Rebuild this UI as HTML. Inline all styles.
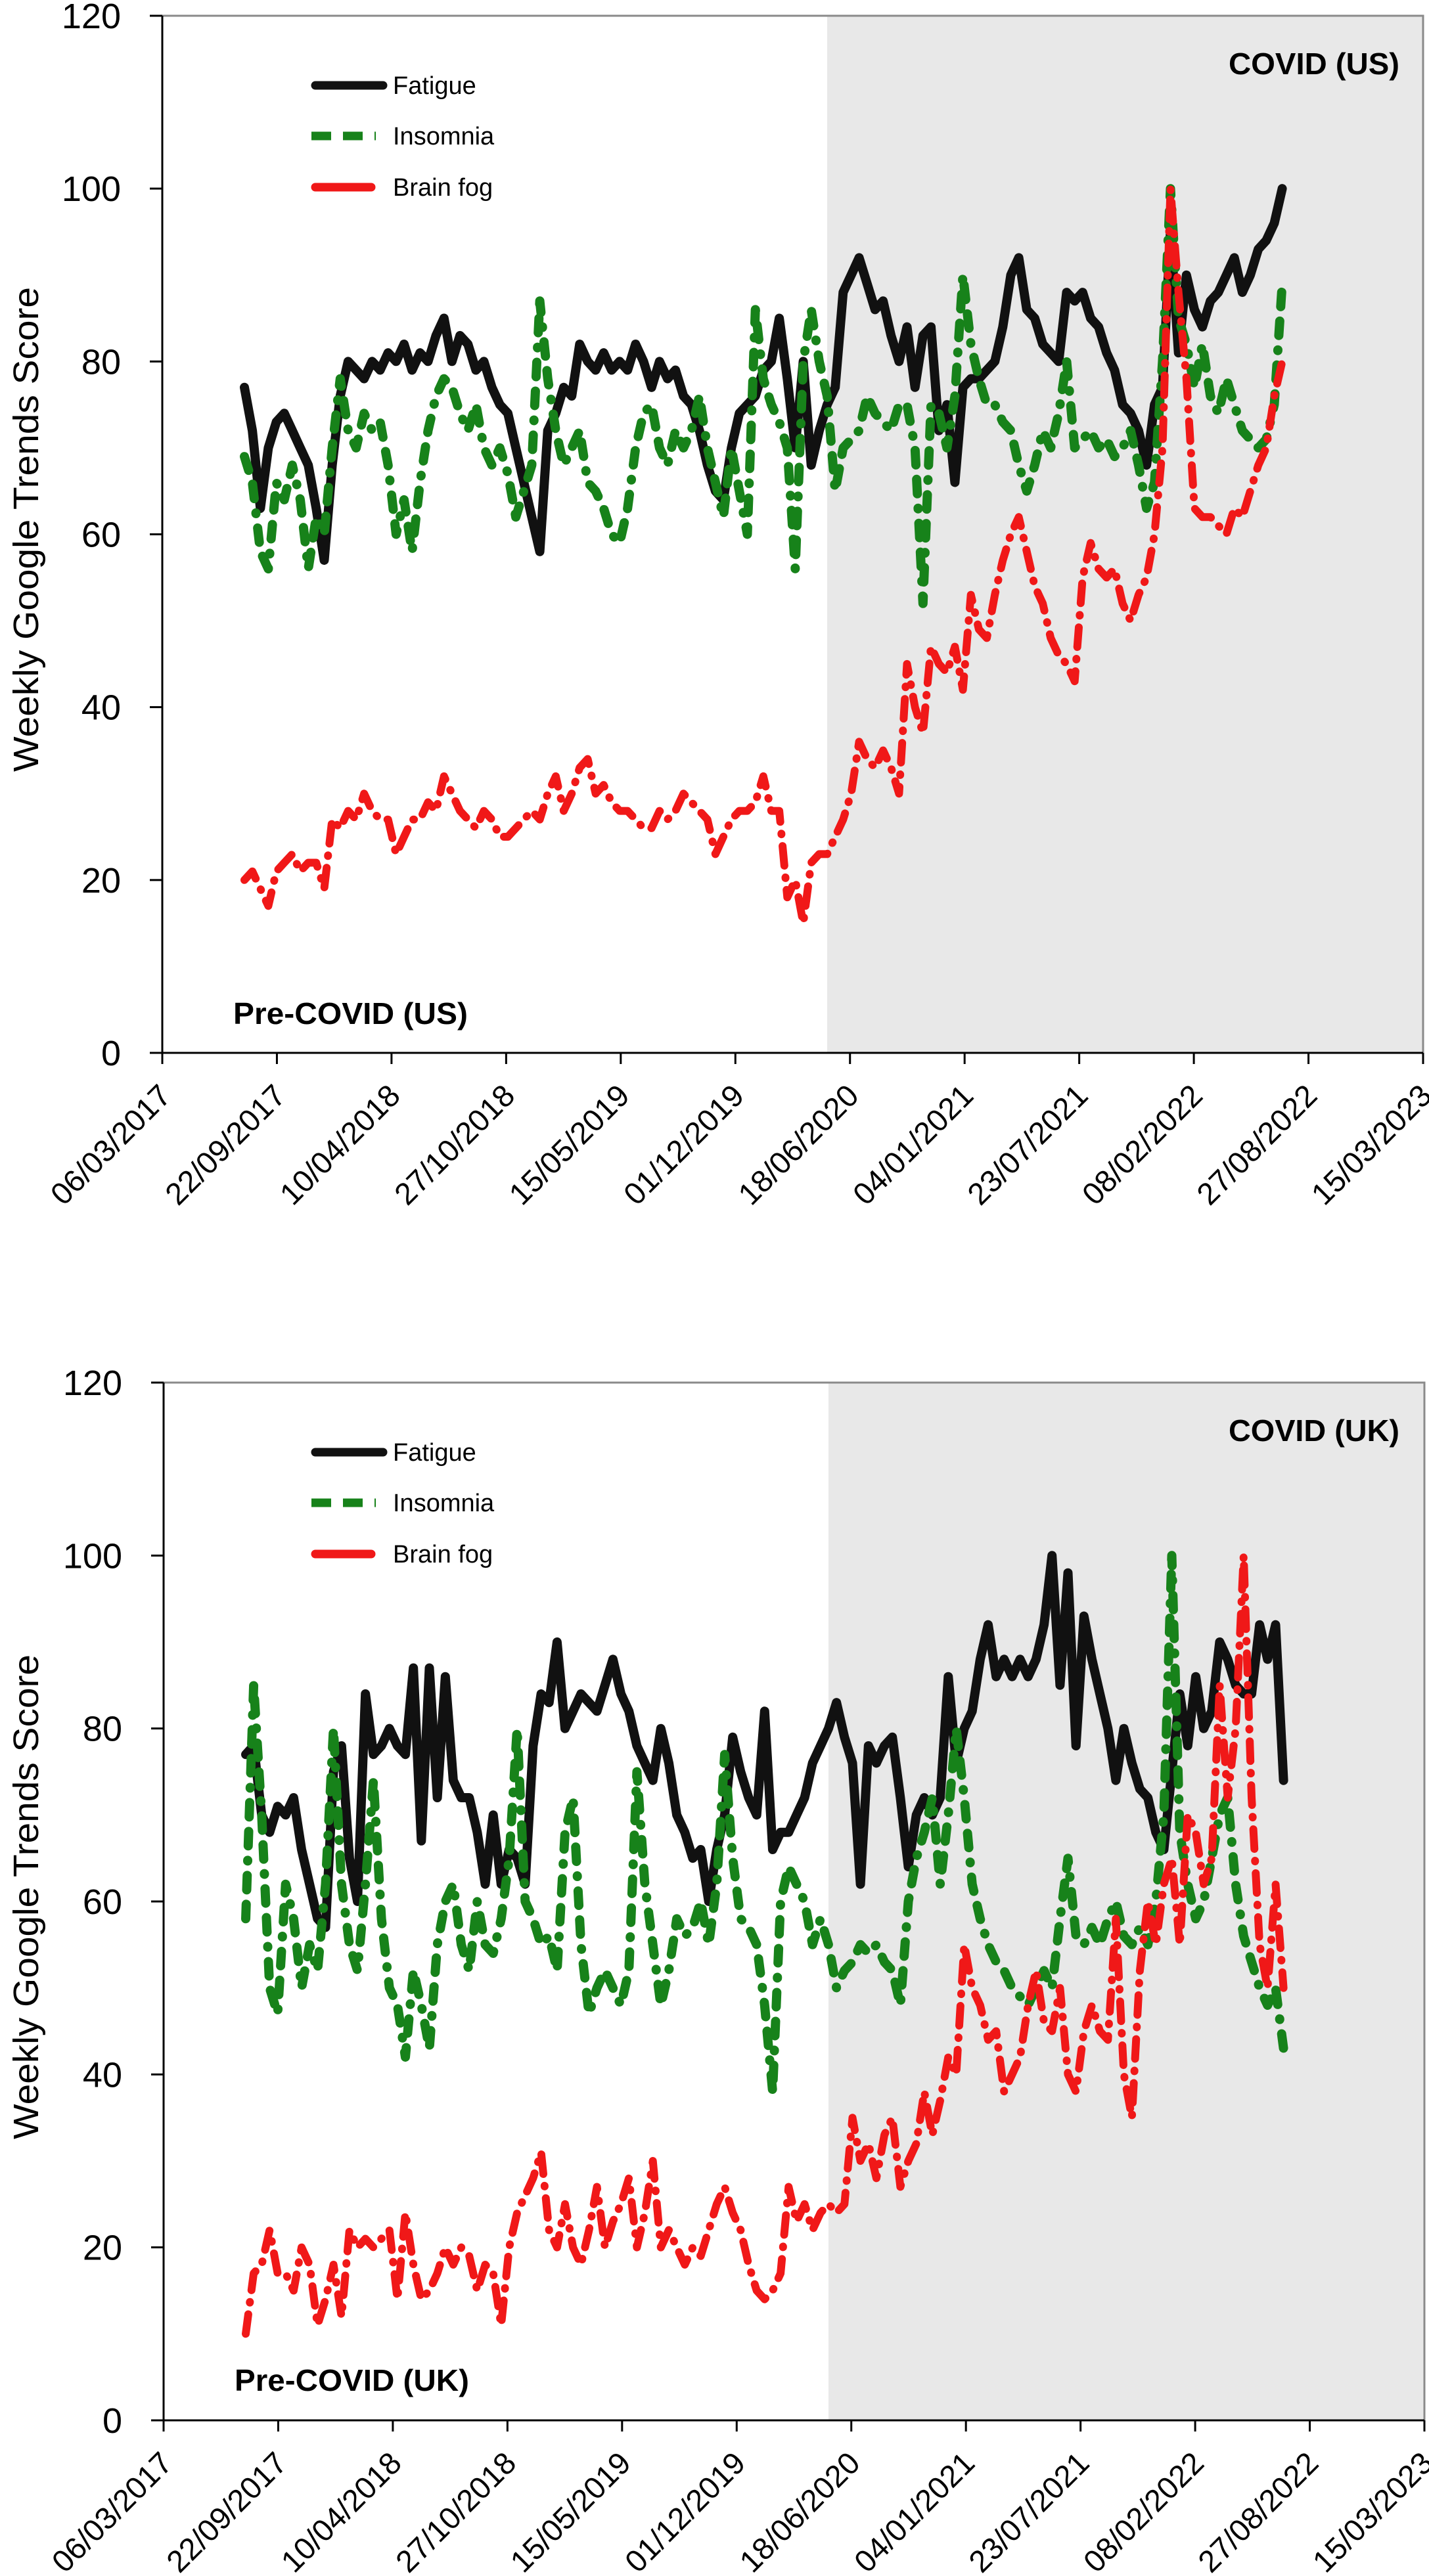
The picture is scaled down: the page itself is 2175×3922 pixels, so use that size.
<!DOCTYPE html>
<html><head><meta charset="utf-8"><style>
html,body{margin:0;padding:0;background:#fff;}
svg{display:block;}
text{font-family:"Liberation Sans",sans-serif;fill:#000;}
</style></head>
<body>
<svg id="chart" width="2175" height="3922" viewBox="0 0 2175 3922" xmlns="http://www.w3.org/2000/svg"></svg>
<script>
// ---- data (biweekly samples starting ~late July 2017) ----
const startDay = 144; // days after 06/03/2017
const stepDays = 14;
const covidStartDay = 1166;
const xTickLabels = ["06/03/2017","22/09/2017","10/04/2018","27/10/2018","15/05/2019","01/12/2019","18/06/2020","04/01/2021","23/07/2021","08/02/2022","27/08/2022","15/03/2023"];
const yTickLabels = [0,20,40,60,80,100,120];

const usFatigue = [77,72,63,70,73,74,72,70,68,63,57,68,76,80,79,78,80,79,81,80,82,79,81,80,83,85,80,83,82,79,80,77,75,74,70,66,62,58,72,74,77,76,82,80,79,81,79,80,79,82,80,77,80,78,79,76,75,72,68,65,64,70,74,75,76,79,80,85,78,70,80,68,72,75,77,88,90,92,89,86,87,83,80,84,77,83,84,72,75,66,77,78,78,79,80,84,90,92,86,85,82,81,80,88,87,88,85,84,81,79,75,74,72,68,75,77,95,81,90,86,84,87,88,90,92,88,90,93,94,96,100];
const usInsomnia = [69,66,58,56,66,64,68,64,56,62,60,70,78,72,70,74,72,73,68,60,64,58,66,72,76,78,77,74,72,75,70,68,70,67,62,65,68,87,78,72,68,70,72,66,65,63,60,59,63,70,74,75,70,68,72,70,72,76,70,66,62,70,65,60,86,78,75,73,70,56,80,86,80,76,65,70,71,72,76,74,73,72,75,75,70,52,75,74,70,76,90,82,78,75,75,73,72,68,65,68,72,70,74,80,70,71,72,70,71,69,70,72,68,63,66,80,100,85,82,77,82,76,74,78,75,72,71,70,71,75,89];
const usBrainFog = [20,21,19,17,21,22,23,21,22,22,19,27,26,28,27,30,28,27,27,23,25,27,27,29,28,32,30,28,27,26,28,27,25,25,26,27,28,27,30,32,28,30,33,34,30,31,29,28,28,27,26,26,28,27,28,30,29,28,27,23,25,27,28,28,29,32,28,28,18,20,15,22,23,23,25,27,30,36,34,33,35,33,30,45,40,37,47,45,44,47,42,53,49,48,53,57,60,62,58,54,52,48,46,45,43,55,59,56,55,56,52,50,53,55,60,70,100,88,78,63,62,62,61,60,63,62,65,68,70,76,80];

const ukFatigue = [77,78,70,68,71,70,72,66,62,58,57,75,78,65,60,84,77,78,80,78,77,87,67,87,72,86,74,72,72,68,62,70,62,66,65,62,78,84,83,90,80,82,84,83,82,85,88,84,82,78,76,74,80,76,70,68,65,66,60,66,70,79,75,72,70,82,66,68,68,70,72,76,78,80,83,79,76,62,78,76,78,79,72,64,70,72,70,72,86,76,80,82,88,92,86,88,86,88,86,88,92,100,85,98,78,93,88,84,80,74,80,76,73,72,68,66,75,84,78,86,80,82,90,88,85,84,84,92,88,92,74];
const ukInsomnia = [58,85,70,50,47,62,58,50,55,52,62,80,62,55,52,62,74,58,50,48,42,52,48,43,55,60,62,55,52,60,55,54,58,65,80,60,58,55,56,52,68,72,55,47,50,52,50,48,52,75,62,55,48,52,58,56,57,60,55,62,77,65,58,57,55,48,38,60,64,62,60,55,58,55,50,52,53,55,54,55,53,52,48,60,65,68,72,62,70,80,72,62,58,55,53,52,50,49,48,50,52,50,58,65,56,55,57,55,58,60,56,55,57,55,60,70,100,68,62,58,60,65,70,72,62,56,53,50,48,50,43];
const ukBrainFog = [10,17,18,22,17,17,15,20,18,11,14,18,12,22,20,21,20,21,22,14,24,18,14,15,17,20,18,20,19,15,18,17,11,20,24,26,28,31,22,20,25,20,18,22,27,20,23,25,28,20,24,30,20,22,20,18,20,19,22,25,27,24,22,18,15,14,15,17,27,23,25,22,24,25,24,25,35,30,32,28,33,35,27,30,32,38,33,37,42,40,55,50,48,44,45,38,40,42,48,52,46,45,50,40,38,45,48,45,44,58,40,35,52,60,55,62,65,55,70,68,62,65,85,72,80,100,72,55,50,62,50];

const NS = "http://www.w3.org/2000/svg";
const svg = document.getElementById('chart');
function mk(tag, attrs, parent){
  const e = document.createElementNS(NS, tag);
  for (const k in attrs) e.setAttribute(k, attrs[k]);
  (parent||svg).appendChild(e);
  return e;
}

function drawPanel(cfg){
  const g = mk('g', {});
  
  
  const L=cfg.left, R=cfg.right, T=cfg.top, B=cfg.bottom;
  const tickStep = 201, nTicks = xTickLabels.length-1;
  const xScale = d => L + d/(tickStep*nTicks)*(R-L);
  const yScale = v => B - v/120*(B-T);

  const shade = mk('rect', {x:xScale(covidStartDay), y:T, width:R-xScale(covidStartDay), height:B-T, fill:'#e8e8e8'}, g);
  
  

  const fr = mk('path', {d:`M${L} ${T}H${R}V${B}`, fill:'none', stroke:'#8a8a8a', 'stroke-width':3}, g);
  
  

  const series = [
    {vals:cfg.fatigue, color:'#111', w:14, dash:null, name:'fatigue-line'},
    {vals:cfg.insomnia, color:'#17821a', w:14, dash:'22 22 22 22 1 22', name:'insomnia-line'},
    {vals:cfg.brainfog, color:'#f01818', w:12, dash:'30 18 1 18', name:'brain-fog-line'}
  ];
  series.forEach(s=>{
    let d='';
    s.vals.forEach((v,i)=>{
      const x = xScale(startDay + i*stepDays), y = yScale(v);
      d += (i? 'L':'M') + x.toFixed(1) + ' ' + y.toFixed(1);
    });
    const attrs = {d:d, fill:'none', stroke:s.color, 'stroke-width':s.w, 'stroke-linejoin':'round', 'stroke-linecap':'round'};
    if (s.dash) attrs['stroke-dasharray'] = s.dash;
    const p = mk('path', attrs, g);
    
    
  });

  const ax = mk('path', {d:`M${L} ${T}V${B}H${R}`, fill:'none', stroke:'#000', 'stroke-width':3}, g);
  
  

  yTickLabels.forEach(v=>{
    const y = yScale(v);
    const t = mk('line', {x1:L-19, x2:L, y1:y, y2:y, stroke:'#000', 'stroke-width':3}, g);
    
    
    const tx = mk('text', {x:L-63, y:y+19, 'text-anchor':'end', 'font-size':54}, g);
    tx.textContent = v;
    
    
  });
  xTickLabels.forEach((lab,k)=>{
    const x = xScale(k*tickStep);
    const t = mk('line', {x1:x, x2:x, y1:B, y2:B+17, stroke:'#000', 'stroke-width':3}, g);
    
    
    const tx = mk('text', {x:0, y:0, 'text-anchor':'end', 'font-size':47, transform:`translate(${x+16},${B+68}) rotate(-45)`}, g);
    tx.textContent = lab;
    
    
  });

  const yt = mk('text', {x:0, y:0, 'text-anchor':'middle', 'font-size':54, textLength:738, lengthAdjust:'spacingAndGlyphs', transform:`translate(58,${cfg.titleY}) rotate(-90)`}, g);
  yt.textContent = 'Weekly Google Trends Score';
  
  

  const pc = mk('text', {x:L+108, y:T+1535, 'font-size':46, 'font-weight':'bold', textLength:357, lengthAdjust:'spacingAndGlyphs'}, g);
  pc.textContent = cfg.preLabel;
  
  
  const cv = mk('text', {x:1870, y:T+89, 'font-size':46, 'font-weight':'bold', textLength:260, lengthAdjust:'spacingAndGlyphs'}, g);
  cv.textContent = cfg.covidLabel;
  
  

  const lg = mk('g', {}, g);
  
  
  const items = [
    {label:'Fatigue', color:'#111', dash:null, dy:106, x2:589},
    {label:'Insomnia', color:'#17821a', dash:'30 18 30 18 2 18', dy:183, x2:589},
    {label:'Brain fog', color:'#f01818', dash:null, dy:261, x2:571}
  ];
  items.forEach(it=>{
    const a = {x1:480, x2:it.x2-6, y1:T+it.dy, y2:T+it.dy, stroke:it.color, 'stroke-width':13, 'stroke-linecap':'round'};
    if (it.dash) { a['stroke-dasharray']=it.dash; a['stroke-linecap']='butt'; a.x1=474; a.x2=it.x2; }
    const ln = mk('line', a, lg);
    
    
    const tx = mk('text', {x:598, y:T+it.dy+13, 'font-size':38}, lg);
    tx.textContent = it.label;
    
    
  });
}

drawPanel({name:'us-chart', left:247, right:2166, top:24, bottom:1603, titleY:806,
  fatigue:usFatigue, insomnia:usInsomnia, brainfog:usBrainFog,
  preLabel:'Pre-COVID (US)', covidLabel:'COVID (US)'});
drawPanel({name:'uk-chart', left:249, right:2168, top:2105, bottom:3685, titleY:2888,
  fatigue:ukFatigue, insomnia:ukInsomnia, brainfog:ukBrainFog,
  preLabel:'Pre-COVID (UK)', covidLabel:'COVID (UK)'});
</script>
</body></html>
